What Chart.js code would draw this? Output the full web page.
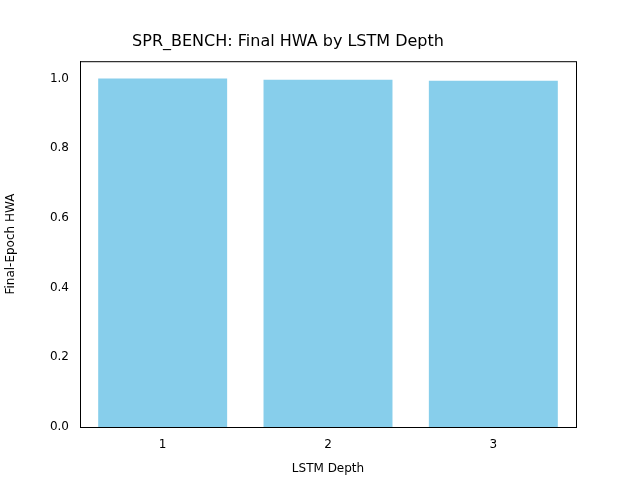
<!DOCTYPE html>
<html><head><script src="https://cdn.jsdelivr.net/npm/chart.js@4"></script>
<style>html,body{margin:0;background:#fff}#w{width:640px;height:480px}</style></head>
<body><div id="w"><canvas id="c"></canvas></div>
<script>
const categories = ["1","2","3"];
const hwaValues = [1.0, 0.997, 0.994];
const yTicks = [0,0.2,0.4,0.6,0.8,1.0];
const F = "DejaVu Sans";
new Chart(document.getElementById('c'), {
  type: 'bar',
  data: { labels: categories, datasets: [{ data: hwaValues, backgroundColor: '#87CEEB', barPercentage: 0.78, categoryPercentage: 1 }] },
  options: {
    responsive: true, maintainAspectRatio: false, animation: false,
    layout: { padding: { left: 0, right: 64, top: 0, bottom: 0 } },
    plugins: { legend: { display: false }, tooltip: { enabled: false },
      title: { display: true, text: 'SPR_BENCH: Final HWA by LSTM Depth', color: '#000', font: { family: F, size: 16, weight: 'normal' }, padding: { top: 32, bottom: 10 } } },
    scales: {
      x: { grid: { display: false, drawTicks: true }, border: { color: '#000' },
        ticks: { color: '#000', font: { family: F, size: 12 } },
        title: { display: true, text: 'LSTM Depth', color: '#000', font: { family: F, size: 12 }, padding: { top: 2 } },
        afterFit: s => { s.height = 53; } },
      y: { min: 0, max: 1.05, border: { color: '#000' }, grid: { display: false, drawTicks: true },
        afterBuildTicks: s => { s.ticks = yTicks.map(v => ({ value: v })); },
        ticks: { color: '#000', font: { family: F, size: 12 }, callback: v => v.toFixed(1) },
        title: { display: true, text: 'Final-Epoch HWA', color: '#000', font: { family: F, size: 12 } },
        afterFit: s => { s.width = 80; } }
    }
  },
  plugins: [{ id: 'box', afterDraw(ch) { const a = ch.chartArea, c = ch.ctx; c.save(); c.strokeStyle = '#000'; c.lineWidth = 1; c.strokeRect(a.left + .5, a.top + .5, a.right - a.left, a.bottom - a.top); c.restore(); } }]
});
</script></body></html>
